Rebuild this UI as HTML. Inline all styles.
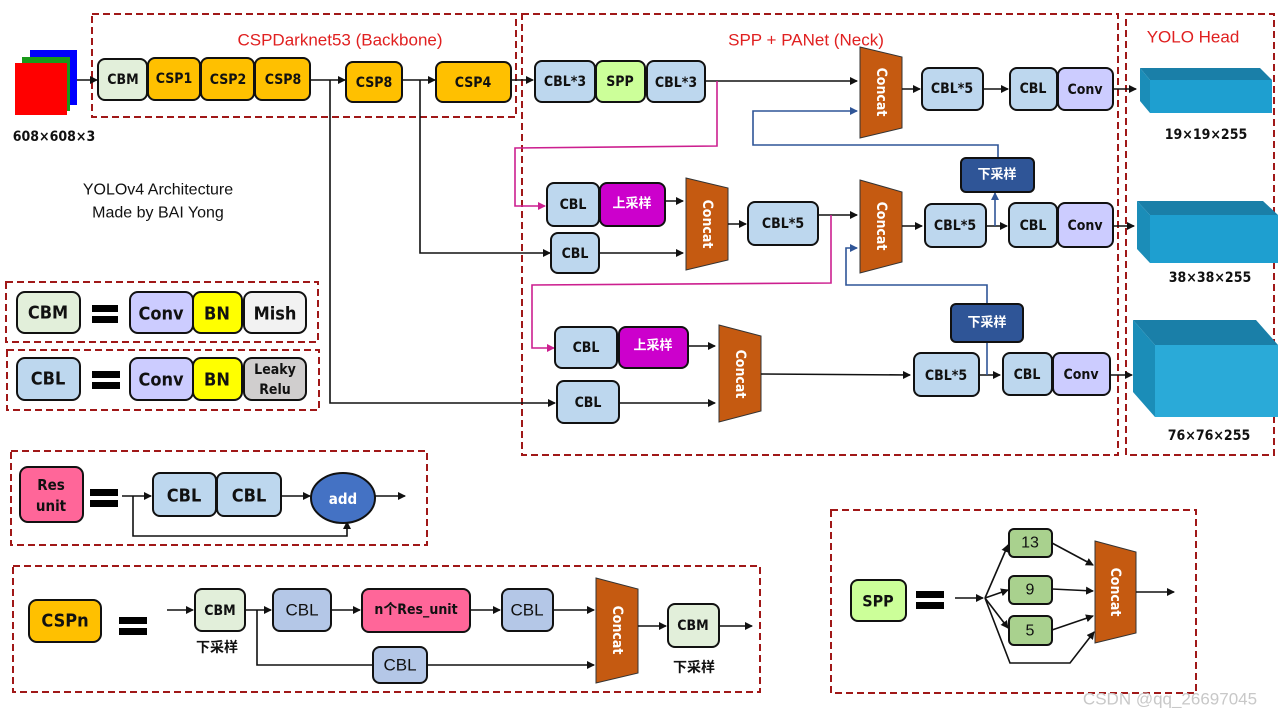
<!DOCTYPE html>
<html><head><meta charset="utf-8"><style>
html,body{margin:0;padding:0;background:#fff;}
svg{display:block;}
text{font-family:"Liberation Sans Narrow","DejaVu Sans Condensed","Liberation Sans","Noto Sans CJK SC",sans-serif;font-weight:bold;text-anchor:middle;dominant-baseline:central;fill:#111;}
.t{font-family:"Liberation Sans","Noto Sans CJK SC",sans-serif;font-weight:normal;}
.red{fill:#e02020;font-family:"Liberation Sans",sans-serif;font-weight:normal;font-size:17px;}
.dash{fill:none;stroke:#a01818;stroke-width:2;stroke-dasharray:7,4;}
.b{stroke:#111;stroke-width:2;}
.l{stroke:#111;stroke-width:1.6;fill:none;}
.m{stroke:#cc1f8f;stroke-width:1.6;fill:none;}
.u{stroke:#2f5597;stroke-width:1.6;fill:none;}
</style></head><body>
<svg width="1280" height="720" viewBox="0 0 1280 720" xmlns="http://www.w3.org/2000/svg">
<defs>
<marker id="a" markerWidth="8" markerHeight="8" refX="7" refY="4" orient="auto" markerUnits="userSpaceOnUse"><path d="M0,0 L8,4 L0,8 z" fill="#111"/></marker>
<marker id="am" markerWidth="8" markerHeight="8" refX="7" refY="4" orient="auto" markerUnits="userSpaceOnUse"><path d="M0,0 L8,4 L0,8 z" fill="#cc1f8f"/></marker>
<marker id="au" markerWidth="8" markerHeight="8" refX="7" refY="4" orient="auto" markerUnits="userSpaceOnUse"><path d="M0,0 L8,4 L0,8 z" fill="#2f5597"/></marker>
</defs>

<rect class="dash" x="92" y="14" width="424" height="103"/>
<rect class="dash" x="522" y="14" width="596" height="441"/>
<rect class="dash" x="1126" y="14" width="148" height="441"/>
<text class="red" x="340" y="40">CSPDarknet53 (Backbone)</text>
<text class="red" x="806" y="40">SPP + PANet (Neck)</text>
<text class="red" x="1193" y="37">YOLO Head</text>

<rect x="30" y="50" width="47" height="55" fill="#0000ff"/>
<rect x="22" y="57" width="48" height="54" fill="#1a9a1a"/>
<rect x="15" y="63" width="52" height="52" fill="#ff0000"/>
<text x="54" y="137" font-size="14">608×608×3</text>
<text class="t" x="158" y="190" font-size="16">YOLOv4 Architecture</text>
<text class="t" x="158" y="213" font-size="16">Made by BAI Yong</text>

<line class="l" x1="77" y1="80" x2="97" y2="80" marker-end="url(#a)"/>
<rect class="b" x="98" y="59" width="49" height="41" rx="7" fill="#e2efda"/><text x="123" y="80" font-size="14">CBM</text>
<rect class="b" x="148" y="58" width="52" height="42" rx="7" fill="#ffc000"/><text x="174" y="79" font-size="14">CSP1</text>
<rect class="b" x="201" y="58" width="53" height="42" rx="7" fill="#ffc000"/><text x="228" y="80" font-size="14">CSP2</text>
<rect class="b" x="255" y="58" width="55" height="42" rx="7" fill="#ffc000"/><text x="283" y="80" font-size="14">CSP8</text>
<line class="l" x1="310" y1="80" x2="345" y2="80" marker-end="url(#a)"/>
<rect class="b" x="346" y="62" width="56" height="40" rx="7" fill="#ffc000"/><text x="374" y="83" font-size="14">CSP8</text>
<line class="l" x1="402" y1="80" x2="435" y2="80" marker-end="url(#a)"/>
<rect class="b" x="436" y="62" width="75" height="40" rx="7" fill="#ffc000"/><text x="473" y="83" font-size="14">CSP4</text>
<line class="l" x1="511" y1="80" x2="533" y2="80" marker-end="url(#a)"/>
<polyline class="l" points="330,80 330,403 555,403" marker-end="url(#a)"/>
<polyline class="l" points="420,80 420,253 550,253" marker-end="url(#a)"/>

<rect class="b" x="535" y="61" width="60" height="41" rx="7" fill="#bdd7ee"/><text x="565" y="82" font-size="14">CBL*3</text>
<rect class="b" x="596" y="61" width="49" height="41" rx="7" fill="#ccff99"/><text x="620" y="82" font-size="14">SPP</text>
<rect class="b" x="647" y="61" width="58" height="41" rx="7" fill="#bdd7ee"/><text x="676" y="83" font-size="14">CBL*3</text>
<line class="l" x1="705" y1="81" x2="857" y2="81" marker-end="url(#a)"/>
<polygon points="860,47 902,57 902,128 860,138" fill="#c55a11" stroke="#333" stroke-width="1"/>
<text x="881" y="92" font-size="14" style="fill:#fff" transform="rotate(90 881 92)">Concat</text>
<line class="l" x1="902" y1="89" x2="920" y2="89" marker-end="url(#a)"/>
<rect class="b" x="922" y="68" width="61" height="42" rx="7" fill="#bdd7ee"/><text x="952" y="89" font-size="14">CBL*5</text>
<line class="l" x1="983" y1="89" x2="1008" y2="89" marker-end="url(#a)"/>
<rect class="b" x="1010" y="68" width="47" height="42" rx="7" fill="#bdd7ee"/><text x="1033" y="89" font-size="14">CBL</text>
<rect class="b" x="1058" y="68" width="55" height="42" rx="7" fill="#ccccff"/><text x="1085" y="90" font-size="14">Conv</text>
<line class="l" x1="1113" y1="89" x2="1136" y2="89" marker-end="url(#a)"/>
<polygon points="1140,68 1260,68 1272,80 1150,80" fill="#1a7fa8"/>
<polygon points="1140,68 1150,80 1150,113 1140,101" fill="#1b8db8"/>
<rect x="1150" y="80" width="122" height="33" fill="#1e9fd0"/>
<text x="1206" y="135" font-size="14">19×19×255</text>
<polyline class="m" points="717,81 717,146 515,148 515,206 545,206" marker-end="url(#am)"/>
<polyline class="u" points="998,158 998,145 753,145 753,111 857,111" marker-end="url(#au)"/>

<rect class="b" x="547" y="183" width="52" height="43" rx="7" fill="#bdd7ee"/><text x="573" y="205" font-size="14">CBL</text>
<rect class="b" x="600" y="183" width="65" height="43" rx="7" fill="#cc00cc"/><text x="632" y="204" font-size="13" style="fill:#fff">上采样</text>
<line class="l" x1="665" y1="201" x2="683" y2="201" marker-end="url(#a)"/>
<rect class="b" x="551" y="233" width="48" height="40" rx="7" fill="#bdd7ee"/><text x="575" y="254" font-size="14">CBL</text>
<line class="l" x1="599" y1="253" x2="683" y2="253" marker-end="url(#a)"/>
<polygon points="686,178 728,188 728,260 686,270" fill="#c55a11" stroke="#333" stroke-width="1"/>
<text x="707" y="224" font-size="14" style="fill:#fff" transform="rotate(90 707 224)">Concat</text>
<line class="l" x1="728" y1="224" x2="746" y2="224" marker-end="url(#a)"/>
<rect class="b" x="748" y="202" width="70" height="43" rx="7" fill="#bdd7ee"/><text x="783" y="224" font-size="14">CBL*5</text>
<line class="l" x1="818" y1="215" x2="857" y2="215" marker-end="url(#a)"/>
<polygon points="860,180 902,192 902,262 860,273" fill="#c55a11" stroke="#333" stroke-width="1"/>
<text x="881" y="226" font-size="14" style="fill:#fff" transform="rotate(90 881 226)">Concat</text>
<line class="l" x1="902" y1="226" x2="922" y2="226" marker-end="url(#a)"/>
<rect class="b" x="925" y="204" width="61" height="43" rx="7" fill="#bdd7ee"/><text x="955" y="226" font-size="14">CBL*5</text>
<line class="l" x1="986" y1="226" x2="1007" y2="226" marker-end="url(#a)"/>
<rect class="b" x="1009" y="203" width="48" height="44" rx="7" fill="#bdd7ee"/><text x="1033" y="226" font-size="14">CBL</text>
<rect class="b" x="1058" y="203" width="55" height="44" rx="7" fill="#ccccff"/><text x="1085" y="226" font-size="14">Conv</text>
<line class="u" x1="995" y1="226" x2="995" y2="193" marker-end="url(#au)"/>
<rect class="b" x="961" y="158" width="73" height="34" rx="5" fill="#2f5597"/><text x="997" y="175" font-size="13" style="fill:#fff">下采样</text>
<line class="l" x1="1113" y1="226" x2="1134" y2="226" marker-end="url(#a)"/>
<polygon points="1137,201 1263,201 1278,215 1150,215" fill="#1a7fa8"/>
<polygon points="1137,201 1150,215 1150,263 1137,249" fill="#1b8db8"/>
<rect x="1150" y="215" width="128" height="48" fill="#1e9fd0"/>
<text x="1210" y="278" font-size="14">38×38×255</text>
<polyline class="m" points="831,215 831,283 532,285 532,348 554,348" marker-end="url(#am)"/>
<polyline class="u" points="987,305 987,285 846,285 846,248 857,248" marker-end="url(#au)"/>

<rect class="b" x="555" y="327" width="62" height="41" rx="7" fill="#bdd7ee"/><text x="586" y="348" font-size="14">CBL</text>
<rect class="b" x="619" y="327" width="69" height="41" rx="7" fill="#cc00cc"/><text x="653" y="346" font-size="13" style="fill:#fff">上采样</text>
<line class="l" x1="688" y1="346" x2="715" y2="346" marker-end="url(#a)"/>
<rect class="b" x="557" y="381" width="62" height="42" rx="7" fill="#bdd7ee"/><text x="588" y="403" font-size="14">CBL</text>
<line class="l" x1="619" y1="403" x2="715" y2="403" marker-end="url(#a)"/>
<polygon points="719,325 761,336 761,411 719,422" fill="#c55a11" stroke="#333" stroke-width="1"/>
<text x="740" y="374" font-size="14" style="fill:#fff" transform="rotate(90 740 374)">Concat</text>
<line class="l" x1="761" y1="374" x2="910" y2="375" marker-end="url(#a)"/>
<rect class="b" x="914" y="353" width="65" height="43" rx="7" fill="#bdd7ee"/><text x="946" y="376" font-size="14">CBL*5</text>
<line class="l" x1="979" y1="375" x2="1000" y2="375" marker-end="url(#a)"/>
<rect class="b" x="1003" y="353" width="49" height="42" rx="7" fill="#bdd7ee"/><text x="1027" y="375" font-size="14">CBL</text>
<rect class="b" x="1053" y="353" width="57" height="42" rx="7" fill="#ccccff"/><text x="1081" y="375" font-size="14">Conv</text>
<line class="u" x1="987" y1="375" x2="987" y2="342"/>
<rect class="b" x="951" y="304" width="72" height="38" rx="5" fill="#2f5597"/><text x="987" y="323" font-size="13" style="fill:#fff">下采样</text>
<line class="l" x1="1110" y1="375" x2="1132" y2="375" marker-end="url(#a)"/>
<polygon points="1133,320 1256,320 1278,345 1155,345" fill="#1a7fa8"/>
<polygon points="1133,320 1155,345 1155,417 1133,392" fill="#1b8db8"/>
<rect x="1155" y="345" width="123" height="72" fill="#2aaad8"/>
<text x="1209" y="436" font-size="14">76×76×255</text>

<rect class="dash" x="6" y="282" width="312" height="60"/>
<rect class="b" x="17" y="292" width="63" height="41" rx="8" fill="#e2efda"/><text x="48" y="313" font-size="18">CBM</text>
<rect x="92" y="305" width="26" height="7" fill="#000"/><rect x="92" y="316" width="26" height="7" fill="#000"/>
<rect class="b" x="130" y="292" width="63" height="41" rx="8" fill="#ccccff"/><text x="161" y="314" font-size="18">Conv</text>
<rect class="b" x="193" y="292" width="49" height="41" rx="8" fill="#ffff00"/><text x="217" y="314" font-size="18">BN</text>
<rect class="b" x="244" y="292" width="62" height="41" rx="8" fill="#f2f2f2"/><text x="275" y="314" font-size="18">Mish</text>
<rect class="dash" x="7" y="350" width="312" height="60"/>
<rect class="b" x="17" y="358" width="63" height="42" rx="8" fill="#bdd7ee"/><text x="48" y="379" font-size="18">CBL</text>
<rect x="92" y="371" width="28" height="7" fill="#000"/><rect x="92" y="382" width="28" height="7" fill="#000"/>
<rect class="b" x="130" y="358" width="63" height="42" rx="8" fill="#ccccff"/><text x="161" y="380" font-size="18">Conv</text>
<rect class="b" x="193" y="358" width="49" height="42" rx="8" fill="#ffff00"/><text x="217" y="380" font-size="18">BN</text>
<rect class="b" x="244" y="358" width="62" height="42" rx="8" fill="#d0cece"/><text x="275" y="370" font-size="14">Leaky</text><text x="275" y="390" font-size="14">Relu</text>

<rect class="dash" x="11" y="451" width="416" height="94"/>
<rect class="b" x="20" y="467" width="63" height="55" rx="8" fill="#ff6699"/><text x="51" y="485" font-size="15">Res</text><text x="51" y="506" font-size="15">unit</text>
<rect x="90" y="489" width="28" height="7" fill="#000"/><rect x="90" y="500" width="28" height="7" fill="#000"/>
<line class="l" x1="122" y1="496" x2="151" y2="496" marker-end="url(#a)"/>
<polyline class="l" points="133,496 133,536 347,536 347,522" marker-end="url(#a)"/>
<rect class="b" x="153" y="473" width="63" height="43" rx="7" fill="#bdd7ee"/><text x="184" y="496" font-size="18">CBL</text>
<rect class="b" x="217" y="473" width="64" height="43" rx="7" fill="#bdd7ee"/><text x="249" y="496" font-size="18">CBL</text>
<line class="l" x1="281" y1="496" x2="310" y2="496" marker-end="url(#a)"/>
<ellipse cx="343" cy="498" rx="32" ry="25" fill="#4472c4" stroke="#111" stroke-width="2"/><text x="343" y="499" font-size="15" style="fill:#fff">add</text>
<line class="l" x1="375" y1="496" x2="405" y2="496" marker-end="url(#a)"/>

<rect class="dash" x="13" y="566" width="747" height="126"/>
<rect class="b" x="29" y="600" width="72" height="42" rx="8" fill="#ffc000"/><text x="65" y="621" font-size="18">CSPn</text>
<rect x="119" y="617" width="28" height="7" fill="#000"/><rect x="119" y="628" width="28" height="7" fill="#000"/>
<line class="l" x1="167" y1="610" x2="193" y2="610" marker-end="url(#a)"/>
<rect class="b" x="195" y="589" width="50" height="42" rx="7" fill="#e2efda"/><text x="220" y="611" font-size="14">CBM</text>
<text x="217" y="648" font-size="14">下采样</text>
<line class="l" x1="245" y1="610" x2="271" y2="610" marker-end="url(#a)"/>
<polyline class="l" points="257,610 257,665 373,665"/>
<rect class="b" x="273" y="589" width="58" height="42" rx="7" fill="#b4c7e7"/><text class="t" x="302" y="610" font-size="17">CBL</text>
<line class="l" x1="331" y1="610" x2="360" y2="610" marker-end="url(#a)"/>
<rect class="b" x="362" y="589" width="108" height="43" rx="7" fill="#ff6699"/><text x="416" y="610" font-size="14">n个Res_unit</text>
<line class="l" x1="470" y1="610" x2="500" y2="610" marker-end="url(#a)"/>
<rect class="b" x="502" y="589" width="51" height="42" rx="7" fill="#b4c7e7"/><text class="t" x="527" y="610" font-size="17">CBL</text>
<line class="l" x1="553" y1="610" x2="594" y2="610" marker-end="url(#a)"/>
<rect class="b" x="373" y="647" width="54" height="36" rx="7" fill="#b4c7e7"/><text class="t" x="400" y="665" font-size="17">CBL</text>
<line class="l" x1="427" y1="665" x2="594" y2="665" marker-end="url(#a)"/>
<polygon points="596,578 638,589 638,673 596,683" fill="#c55a11" stroke="#333" stroke-width="1"/>
<text x="617" y="630" font-size="14" style="fill:#fff" transform="rotate(90 617 630)">Concat</text>
<line class="l" x1="638" y1="626" x2="666" y2="626" marker-end="url(#a)"/>
<rect class="b" x="668" y="604" width="51" height="43" rx="7" fill="#e2efda"/><text x="693" y="626" font-size="14">CBM</text>
<line class="l" x1="719" y1="626" x2="752" y2="626" marker-end="url(#a)"/>
<text x="694" y="668" font-size="14">下采样</text>

<rect class="dash" x="831" y="510" width="365" height="183"/>
<rect class="b" x="851" y="580" width="55" height="41" rx="7" fill="#ccff99"/><text x="878" y="601" font-size="16">SPP</text>
<rect x="916" y="591" width="28" height="7" fill="#000"/><rect x="916" y="602" width="28" height="7" fill="#000"/>
<line class="l" x1="955" y1="598" x2="983" y2="598" marker-end="url(#a)"/>
<line class="l" x1="985" y1="598" x2="1008" y2="545" marker-end="url(#a)"/>
<line class="l" x1="985" y1="598" x2="1008" y2="590" marker-end="url(#a)"/>
<line class="l" x1="985" y1="598" x2="1008" y2="628" marker-end="url(#a)"/>
<polyline class="l" points="985,598 1010,663 1070,663 1094,632" marker-end="url(#a)"/>
<rect class="b" x="1009" y="529" width="43" height="28" rx="5" fill="#a9d18e"/><text class="t" x="1030" y="543" font-size="16">13</text>
<rect class="b" x="1009" y="576" width="43" height="28" rx="5" fill="#a9d18e"/><text class="t" x="1030" y="590" font-size="16">9</text>
<rect class="b" x="1009" y="616" width="43" height="29" rx="5" fill="#a9d18e"/><text class="t" x="1030" y="631" font-size="16">5</text>
<line class="l" x1="1052" y1="543" x2="1093" y2="565" marker-end="url(#a)"/>
<line class="l" x1="1052" y1="589" x2="1093" y2="591" marker-end="url(#a)"/>
<line class="l" x1="1052" y1="630" x2="1093" y2="616" marker-end="url(#a)"/>
<polygon points="1095,541 1136,552 1136,633 1095,643" fill="#c55a11" stroke="#333" stroke-width="1"/>
<text x="1115" y="592" font-size="14" style="fill:#fff" transform="rotate(90 1115 592)">Concat</text>
<line class="l" x1="1136" y1="592" x2="1174" y2="592" marker-end="url(#a)"/>

<text class="t" x="1170" y="699" font-size="17" style="fill:#c8c8c8">CSDN @qq_26697045</text>
</svg>
</body></html>
